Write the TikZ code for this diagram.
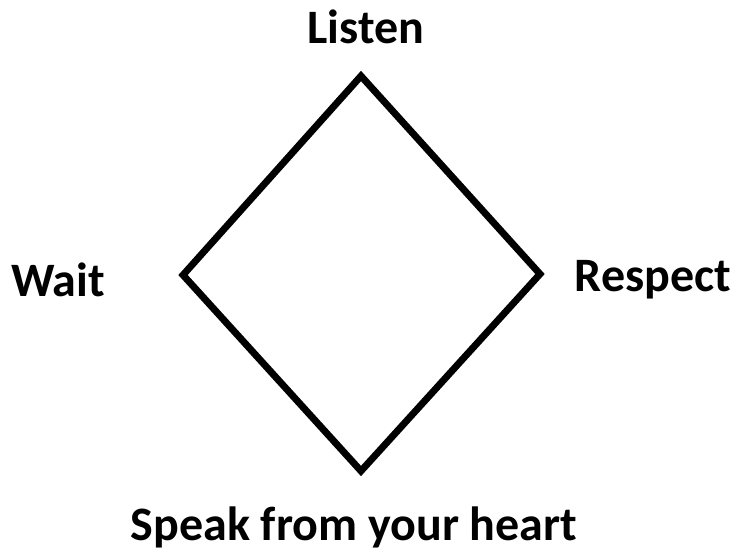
\documentclass[tikz,border=0pt]{standalone}
\usepackage{fontspec}
\setmainfont{Carlito}
\begin{document}
\begin{tikzpicture}[x=0.75pt,y=-0.75pt,
  lbl/.style={font=\fontsize{36}{40}\selectfont\bfseries, inner sep=0pt, anchor=base},
  edge/.style={line width=5.2pt, line join=miter}]
\path[fill=white] (0,0) rectangle (737,550);
\useasboundingbox (0,0) rectangle (737,550);
\coordinate (t) at (361,76);
\coordinate (r) at (540,274);
\coordinate (b) at (361,471);
\coordinate (l) at (183,275);
\draw[edge] (t) -- (r) -- (b) -- (l) -- cycle;
\node[lbl] (listen) at (366,43) {Listen};
\node[lbl] (wait) at (58,296) {Wait};
\node[lbl] (respect) at (653,291) {Respect};
\node[lbl] (speak) at (354,540) {Speak from your heart};
\end{tikzpicture}
\end{document}
